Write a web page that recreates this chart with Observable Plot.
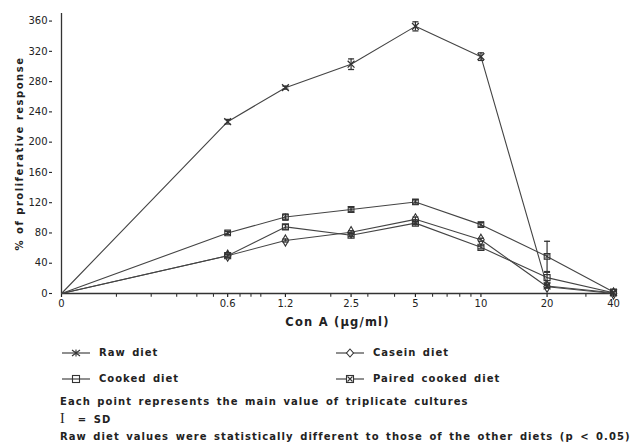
<!DOCTYPE html>
<html><head><meta charset="utf-8">
<script src="https://cdn.jsdelivr.net/npm/d3@7"></script>
<script src="https://cdn.jsdelivr.net/npm/@observablehq/plot@0.6"></script>
<style>
body{margin:0;background:#fff;font-family:"DejaVu Sans",sans-serif;color:#222;}
#wrap{width:639px;height:447px;position:relative;overflow:hidden;}
#chart svg [aria-label="y-axis label"] text{letter-spacing:1.5px;font-weight:bold;}
#chart svg [aria-label="x-axis label"] text{letter-spacing:1.2px;font-size:11.5px;font-weight:bold;}
.lg{position:absolute;font-size:10px;font-weight:bold;letter-spacing:1px;word-spacing:2px;white-space:nowrap;line-height:12px;color:#222;}
.lg svg{vertical-align:middle;margin-right:9px;}
</style>
</head><body><div id="wrap"><div id="chart"></div><div id="legend" style="position:absolute;left:0;top:330px;width:639px;height:117px;"></div></div>
<script>
const conA = [0, 0.6, 1.2, 2.5, 5, 10, 20, 40];
const tickLabels = ["0", "0.6", "1.2", "2.5", "5", "10", "20", "40"];
const minorTicks = [0.1, 0.2, 0.3, 0.4, 0.5, 0.7, 0.8, 0.9, 2, 3, 4, 6, 7, 8, 9, 30];
const yTicks = [0, 40, 80, 120, 160, 200, 240, 280, 320, 360];

const seriesNames = ["Raw diet", "Casein diet", "Cooked diet", "Paired cooked diet"];
const rawDiet = [0, 227, 272, 303, 353, 313, 10, 1];
const rawSD = [0, 3, 2, 7, 6, 5, 2, 0];
const caseinDiet = [0, 50, 70, 81, 98, 71, 9, 0];
const caseinSD = [0, 2, 2, 2, 3, 2, 2, 0];
const cookedDiet = [0, 50, 88, 77, 93, 61, 21, 1];
const cookedSD = [0, 2, 3, 2, 2, 2, 7, 0];
const pairedDiet = [0, 80, 101, 111, 121, 91, 49, 2];
const pairedSD = [0, 2, 4, 3, 3, 3, 20, 0];

const values = [rawDiet, caseinDiet, cookedDiet, pairedDiet];
const sds = [rawSD, caseinSD, cookedSD, pairedSD];
const table = [];
seriesNames.forEach((s, k) => conA.forEach((x, i) => table.push({series: s, x, y: values[k][i], sd: sds[k][i]})));
const pts = table.filter(d => d.x > 0);
const errs = table.filter(d => d.sd > 0);

const cap = {draw(ctx, size) { const r = Math.sqrt(size / Math.PI); ctx.moveTo(-r, 0); ctx.lineTo(r, 0); }};
const ink = "#333";

const chart = Plot.plot({
  width: 639, height: 330,
  marginLeft: 61, marginRight: 26, marginTop: 13, marginBottom: 37,
  style: {fontFamily: "DejaVu Sans", fontSize: "10px", color: "#222", background: "#fff"},
  x: {type: "symlog", constant: 0.13, domain: [0, 40]},
  y: {domain: [0, 370]},
  marks: [
    Plot.axisX({ticks: conA, tickFormat: d => tickLabels[conA.indexOf(d)], tickSize: 4, tickPadding: 2, strokeWidth: 1.2,
      label: "Con A (µg/ml)", labelAnchor: "center", labelOffset: 32, labelArrow: "none"}),
    Plot.ruleX(minorTicks, {x: d => d, y1: 0, y2: -5, stroke: ink, strokeWidth: 1.1}),
    Plot.axisY({ticks: yTicks, tickSize: 0, tickPadding: 14,
      label: "% of proliferative response", labelAnchor: "center", labelOffset: 46, labelArrow: "none"}),
    Plot.axisY({ticks: yTicks, tickSize: 3, tickFormat: () => "", label: null, dx: -9, strokeWidth: 1.1}),
    Plot.ruleX([0], {stroke: ink, strokeWidth: 1.3}),
    Plot.ruleY([0], {stroke: ink, strokeWidth: 1.3}),
    Plot.line(table, {x: "x", y: "y", z: "series", stroke: "#444", strokeWidth: 1.1}),
    Plot.ruleX(errs, {x: "x", y1: d => d.y - d.sd, y2: d => d.y + d.sd, stroke: ink, strokeWidth: 1.2}),
    Plot.dot(errs, {x: "x", y: d => d.y + d.sd, symbol: cap, r: 3, stroke: ink, strokeWidth: 1.3}),
    Plot.dot(errs, {x: "x", y: d => d.y - d.sd, symbol: cap, r: 3, stroke: ink, strokeWidth: 1.3}),
    Plot.dot(pts.filter(d => d.series === "Raw diet"), {x: "x", y: "y", symbol: "times", r: 3.2, stroke: ink, strokeWidth: 1.3}),
    Plot.dot(pts.filter(d => d.series === "Casein diet"), {x: "x", y: "y", symbol: "diamond", r: 3.4, stroke: ink, fill: "none", strokeWidth: 1.1}),
    Plot.dot(pts.filter(d => d.series === "Cooked diet"), {x: "x", y: "y", symbol: "square", r: 3.4, stroke: ink, fill: "none", strokeWidth: 1.1}),
    Plot.dot(pts.filter(d => d.series === "Paired cooked diet"), {x: "x", y: "y", symbol: "square", r: 3.2, stroke: ink, fill: "none", strokeWidth: 1.1}),
    Plot.dot(pts.filter(d => d.series === "Paired cooked diet"), {x: "x", y: "y", symbol: "times", r: 2.6, stroke: ink, strokeWidth: 1})
  ]
});
document.getElementById("chart").appendChild(chart);

// legend
const symSvg = {
  "Raw diet": '<path d="M10,3L18,9M18,3L10,9M14,2.5V9.5" />',
  "Casein diet": '<path d="M14,2L17.5,6L14,10L10.5,6Z" fill="#fff"/>',
  "Cooked diet": '<rect x="10.5" y="2.5" width="7" height="7" fill="none"/>',
  "Paired cooked diet": '<rect x="10.5" y="2.5" width="7" height="7" fill="#fff"/><path d="M11.5,3.5L16.5,8.5M16.5,3.5L11.5,8.5"/>'
};
const legendPos = [
  ["Raw diet", 62, 17], ["Casein diet", 336, 17],
  ["Cooked diet", 62, 43], ["Paired cooked diet", 336, 43]
];
const lg = document.getElementById("legend");
legendPos.forEach(([name, left, top]) => {
  const d = document.createElement("div");
  d.className = "lg";
  d.style.left = left + "px"; d.style.top = top + "px";
  d.innerHTML = `<svg width="28" height="12" stroke="${ink}" stroke-width="1.1"><line x1="0" x2="28" y1="6" y2="6"/>${symSvg[name]}</svg>${name}`;
  lg.appendChild(d);
});
const captions = [
  ["Each point represents the main value of triplicate cultures", 66],
  ['<span style="font-family:\'Liberation Serif\';font-weight:normal;font-size:14px;letter-spacing:0">I</span>&nbsp; = SD', 83],
  ["Raw diet values were statistically different to those of the other diets (p &lt; 0.05)", 101]
];
captions.forEach(([t, top]) => {
  const d = document.createElement("div");
  d.className = "lg";
  d.style.left = "60px"; d.style.top = top + "px";
  d.style.wordSpacing = "2px"; d.style.letterSpacing = "1.05px";
  d.innerHTML = t;
  lg.appendChild(d);
});
</script>
</body></html>
